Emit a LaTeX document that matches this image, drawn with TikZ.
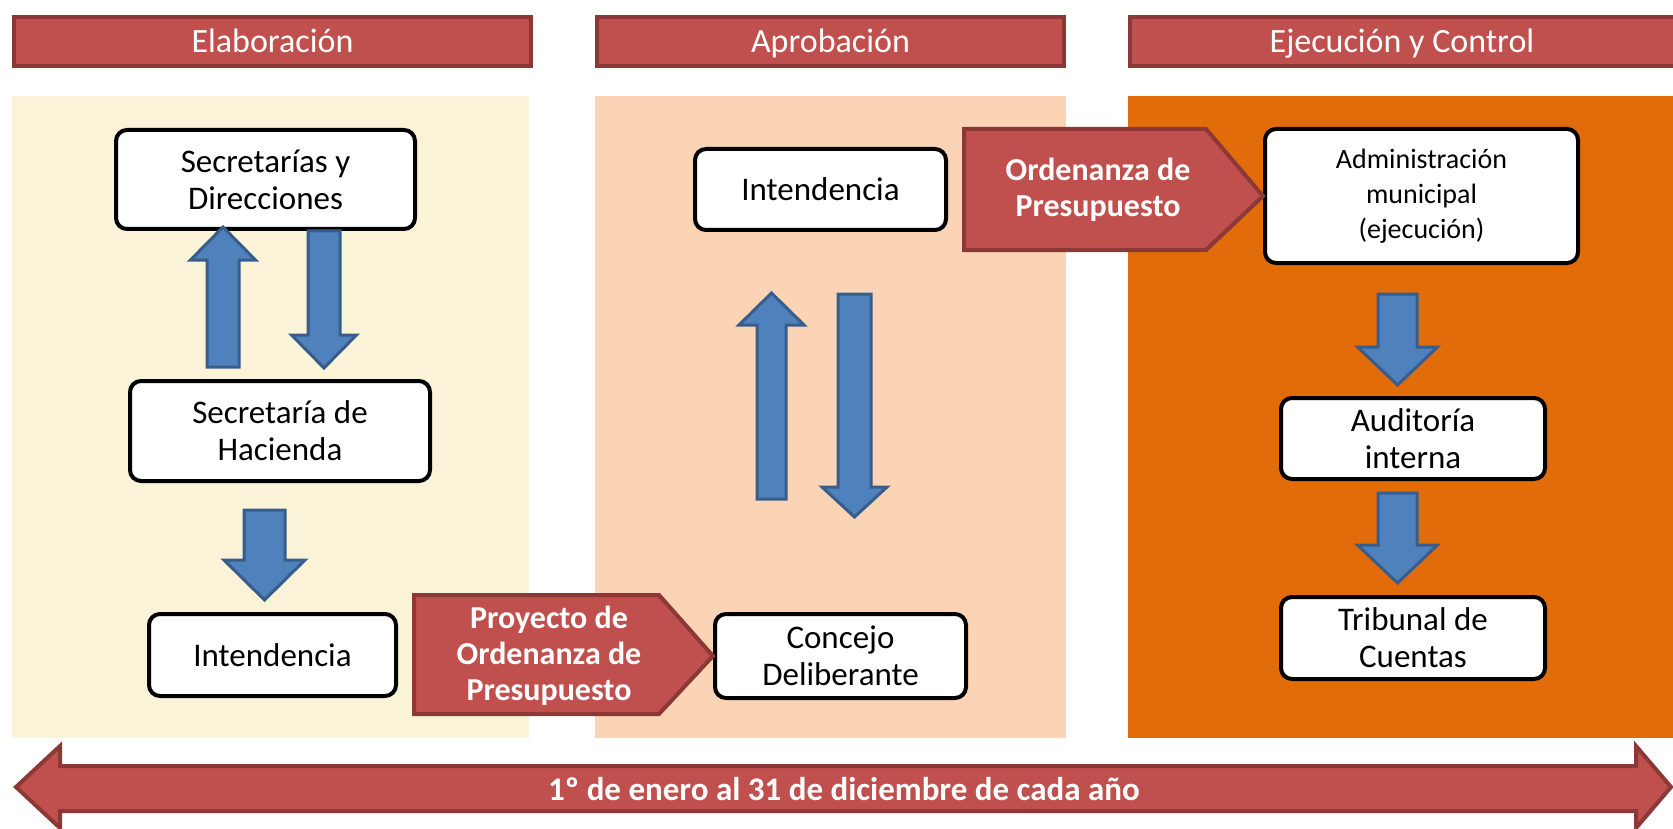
\documentclass[tikz,border=0pt]{standalone}
\usepackage{fontspec}
\setmainfont{Carlito}
\usetikzlibrary{calc}
\definecolor{hdrfill}{HTML}{C0504D}
\definecolor{hdrline}{HTML}{8C3836}
\definecolor{pbeige}{HTML}{FBF3D7}
\definecolor{ppeach}{HTML}{FAD4B4}
\definecolor{porange}{HTML}{E26B0A}
\definecolor{bfill}{HTML}{4F81BD}
\definecolor{bline}{HTML}{385D8A}
% block arrow: centre x, shaft half width, head half width, tail y, head base y, tip y
\newcommand\BlkArrow[6]{%
  \filldraw[blk] ({#1-#2},#4) -- ({#1-#2},#5) -- ({#1-#3},#5) -- (#1,#6) -- ({#1+#3},#5) -- ({#1+#2},#5) -- ({#1+#2},#4) -- cycle;}
\begin{document}
\begin{tikzpicture}[x=1pt,y=-1pt,
  hdr/.style={fill=hdrfill,draw=hdrline,line width=4pt},
  hdrtext/.style={text=white,font=\fontsize{34}{40}\selectfont,anchor=base,inner sep=0pt},
  box/.style={draw=black,fill=white,line width=4pt,rounded corners=11pt,align=center,inner sep=0pt,font=\fontsize{33}{37}\selectfont},
  blk/.style={fill=bfill,draw=bline,line width=3pt,line join=miter},
  tag/.style={fill=hdrfill,draw=hdrline,line width=4pt,line join=miter},
  tagtext/.style={text=white,align=center,font=\bfseries\fontsize{32}{36}\selectfont,inner sep=0pt},
]
\useasboundingbox (0,0) rectangle (1673,829);
\fill[white] (0,0) rectangle (1673,829);

% headers
\draw[hdr] (14,17) rectangle (531,66);
\draw[hdr] (597,17) rectangle (1064,66);
\draw[hdr] (1130,17) rectangle (1690,66);
\node[hdrtext] (h1) at (272.5,53) {Elaboración};
\node[hdrtext] (h2) at (830.5,53) {Aprobación};
\node[hdrtext] (h3) at (1402,53) {Ejecución y Control};

% panels
\fill[pbeige] (12,96) rectangle (529,738);
\fill[ppeach] (595,96) rectangle (1066,738);
\fill[porange] (1128,96) rectangle (1673,738);

% boxes
\node[box,minimum width=299pt,minimum height=99pt] (sd) at (265.5,179.5) {Secretarías y\\Direcciones};
\node[box,minimum width=300pt,minimum height=100pt] (sh) at (280,431) {Secretaría de\\Hacienda};
\node[box,minimum width=247pt,minimum height=82pt] (il) at (272.5,655) {Intendencia};
\node[box,minimum width=251pt,minimum height=81pt] (im) at (820.5,189.5) {Intendencia};
\node[box,minimum width=251pt,minimum height=84pt] (cd) at (840.5,656) {Concejo\\Deliberante};
\node[box,minimum width=313pt,minimum height=134pt,font=\fontsize{28}{35}\selectfont] (am) at (1421.5,196) {Administración\\municipal\\(ejecución)};
\node[box,minimum width=264pt,minimum height=81pt] (ai) at (1413,438.5) {Auditoría\\interna};
\node[box,minimum width=264pt,minimum height=82pt] (tc) at (1413,638) {Tribunal de\\Cuentas};

% tags (pentagons) pointing at the next box
\draw[tag] (414,595) -- (659,595) -- (cd.west) -- (659,714) -- (414,714) -- cycle;
\node[tagtext] (pt) at (549,656) {Proyecto de\\Ordenanza de\\Presupuesto};
\draw[tag] (964,129) -- (1206,129) -- (am.west) -- (1206,250) -- (964,250) -- cycle;
\node[tagtext] (ot) at (1098,190) {Ordenanza de\\Presupuesto};

% blue block arrows
\BlkArrow{223}{16}{32.5}{367}{260}{227}
\BlkArrow{324}{16}{32.5}{231}{335}{368}
\BlkArrow{264.5}{20.5}{40.5}{510}{560}{600}
\BlkArrow{771.5}{14.5}{32.5}{499}{325}{293}
\BlkArrow{854.5}{16.5}{32.5}{294}{487}{517}
\BlkArrow{1397.5}{19.5}{40}{294}{347}{385}
\BlkArrow{1397.5}{19.5}{40}{493}{545}{583}

% bottom double arrow
\draw[tag] (16,787) -- (60,746) -- (60,766) -- (1636,766) -- (1636,746) -- (1671,787) -- (1636,828) -- (1636,811) -- (60,811) -- (60,828) -- cycle;
\node[text=white,font=\bfseries\fontsize{33}{38}\selectfont,inner sep=0pt] (yr) at (844,789) {1º de enero al 31 de diciembre de cada año};
\end{tikzpicture}
\end{document}
